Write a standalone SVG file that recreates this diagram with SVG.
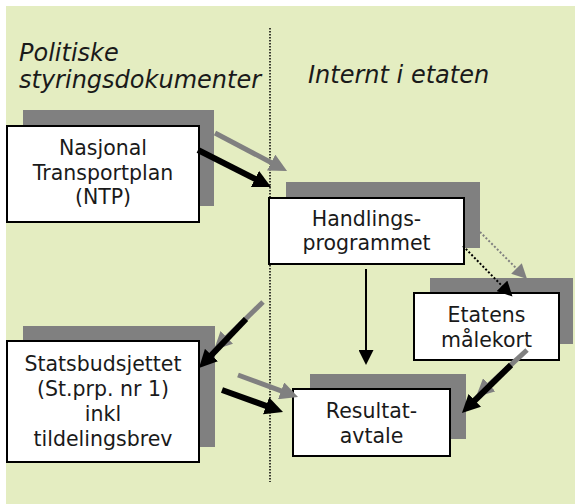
<svg xmlns="http://www.w3.org/2000/svg" width="575" height="504" viewBox="0 0 575 504">
<style>
.bg{fill:#e4edc1}
.sh{fill:#808080}
.bx{fill:#ffffff;stroke:#000;stroke-width:2}
.t{font-family:"DejaVu Sans","Verdana",sans-serif;font-size:20.5px;fill:#1a1a1a;text-anchor:middle}
.h{font-family:"DejaVu Sans","Verdana",sans-serif;font-size:24px;font-style:italic;fill:#1a1a1a}
.ag{stroke:#808080;stroke-width:5;fill:none}
.ab{stroke:#000;stroke-width:6;fill:none}
</style>
<defs>
<marker id="hb" markerUnits="userSpaceOnUse" markerWidth="18" markerHeight="18" refX="8" refY="9" orient="auto"><path d="M0,0 L18,9 L0,18 z" fill="#000"/></marker>
<marker id="hg" markerUnits="userSpaceOnUse" markerWidth="18" markerHeight="18" refX="8" refY="9" orient="auto"><path d="M0,0 L18,9 L0,18 z" fill="#808080"/></marker>
<marker id="sb" markerUnits="userSpaceOnUse" markerWidth="15" markerHeight="15" refX="5" refY="7.5" orient="auto"><path d="M0,0 L15,7.5 L0,15 z" fill="#000"/></marker>
<marker id="sg" markerUnits="userSpaceOnUse" markerWidth="15" markerHeight="15" refX="5" refY="7.5" orient="auto"><path d="M0,0 L15,7.5 L0,15 z" fill="#808080"/></marker>
</defs>
<rect class="bg" x="6" y="6" width="569" height="498"/>
<line x1="270" y1="28" x2="270" y2="482" stroke="#000" stroke-width="1.5" stroke-dasharray="1.5 1.5"/>
<text class="h" x="19" y="61">Politiske</text>
<text class="h" x="19" y="88">styringsdokumenter</text>
<text class="h" x="308" y="83">Internt i etaten</text>

<g id="ntp">
<rect class="sh" x="23" y="110" width="191" height="96"/>
<rect class="bx" x="7" y="126" width="192" height="96"/>
<text class="t" x="103" y="155">Nasjonal</text>
<text class="t" x="103" y="180">Transportplan</text>
<text class="t" x="103" y="204">(NTP)</text>
</g>
<g id="handlings">
<rect class="sh" x="286" y="182" width="194" height="66"/>
<rect class="bx" x="269" y="198" width="195" height="66"/>
<text class="t" x="366.5" y="226">Handlings-</text>
<text class="t" x="366.5" y="250">programmet</text>
</g>
<g id="etatens">
<rect class="sh" x="430" y="278" width="143" height="66"/>
<rect class="bx" x="414" y="293" width="145" height="67"/>
<text class="t" x="486.5" y="322">Etatens</text>
<text class="t" x="486.5" y="347">målekort</text>
</g>
<g id="statsbudsjett">
<rect class="sh" x="23" y="326" width="192" height="121"/>
<rect class="bx" x="7" y="341" width="192" height="121"/>
<text class="t" x="103" y="371">Statsbudsjettet</text>
<text class="t" x="103" y="396">(St.prp. nr 1)</text>
<text class="t" x="103" y="421">inkl</text>
<text class="t" x="103" y="446">tildelingsbrev</text>
</g>
<g id="resultat">
<rect class="sh" x="310" y="374" width="156" height="65"/>
<rect class="bx" x="293" y="389" width="157" height="67"/>
<text class="t" x="371.5" y="418">Resultat-</text>
<text class="t" x="371.5" y="443">avtale</text>
</g>

<g id="connectors">
<line class="ag" x1="215" y1="133" x2="278.2" y2="166.3" marker-end="url(#hg)"/>
<line class="ab" x1="198" y1="150" x2="262.1" y2="182.5" marker-end="url(#hb)"/>
<line x1="480" y1="232" x2="520" y2="272" stroke="#808080" stroke-width="2" stroke-dasharray="2 2" marker-end="url(#sg)"/>
<line x1="463" y1="246" x2="505.5" y2="289.4" stroke="#000" stroke-width="2" stroke-dasharray="2 2" marker-end="url(#sb)"/>
<line x1="366" y1="269" x2="366" y2="355" stroke="#000" stroke-width="2" marker-end="url(#sb)"/>
<line class="ag" x1="527" y1="350" x2="483.3" y2="390.2" marker-end="url(#hg)"/>
<line class="ab" x1="511" y1="365" x2="469.1" y2="406" marker-end="url(#hb)"/>
<line class="ag" x1="263" y1="302" x2="221.1" y2="343" marker-end="url(#hg)"/>
<line class="ab" x1="246" y1="319" x2="205.9" y2="360.8" marker-end="url(#hb)"/>
<line class="ag" x1="238" y1="375" x2="288.6" y2="393.6" marker-end="url(#hg)"/>
<line class="ab" x1="222" y1="390" x2="273.6" y2="408.6" marker-end="url(#hb)"/>
</g>
</svg>
